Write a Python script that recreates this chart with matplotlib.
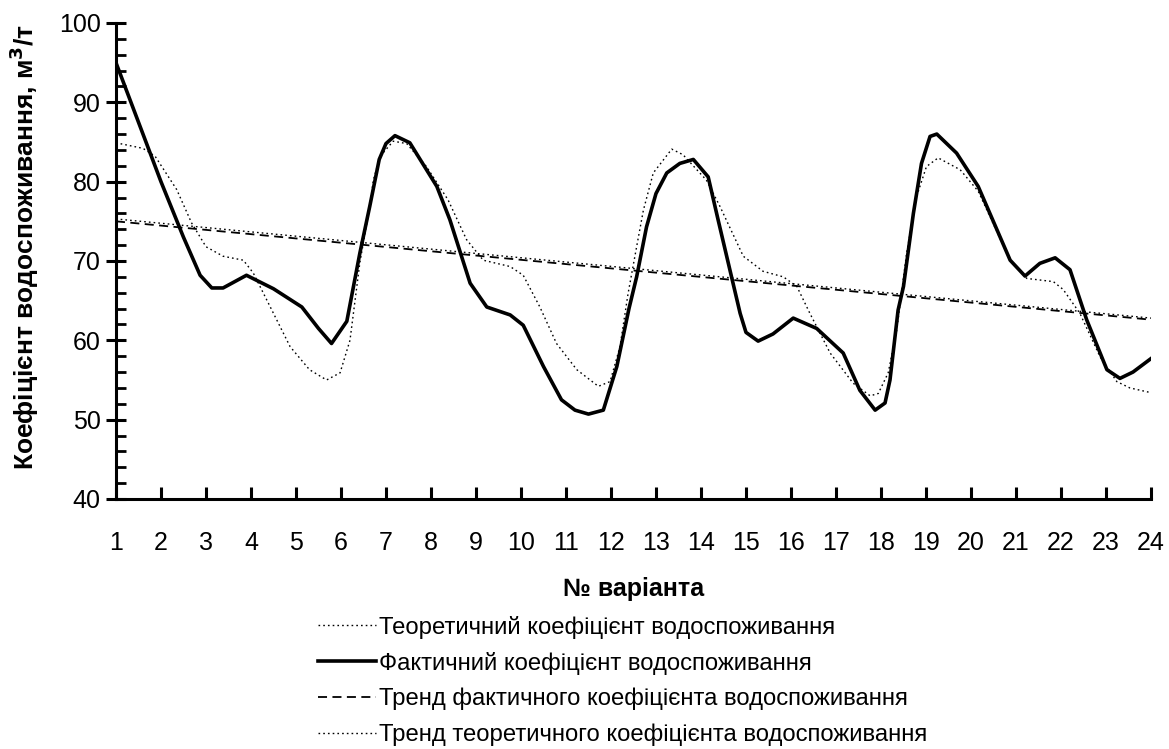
import numpy as np
import matplotlib.pyplot as plt
from matplotlib.lines import Line2D

plt.rcParams['font.family'] = ['Liberation Sans', 'DejaVu Sans']

# Фактичний коефіцієнт
fact_x = [1.0, 1.5, 2.0, 2.5, 2.87, 3.13, 3.38, 3.9, 4.5, 5.13, 5.5, 5.79, 6.13, 6.42,
          6.64, 6.85, 7.0, 7.2, 7.53, 8.13, 8.42, 8.87, 9.24, 9.76, 10.05, 10.5,
          10.9, 11.2, 11.5, 11.83, 12.13, 12.4, 12.57, 12.79, 13.0, 13.24, 13.53,
          13.83, 14.16, 14.38, 14.87, 15.0, 15.27, 15.6, 16.05, 16.57, 17.16,
          17.53, 17.87, 18.09, 18.2, 18.38, 18.5, 18.72, 18.9, 19.09, 19.24,
          19.68, 20.16, 20.87, 21.2, 21.53, 21.87, 22.2, 22.57, 23.02, 23.31,
          23.6, 24.0]
fact_y = [95.0, 87.5, 80.0, 73.0, 68.2, 66.6, 66.6, 68.2, 66.5, 64.2, 61.5, 59.6, 62.4, 71.0,
          76.9, 82.8, 84.8, 85.8, 84.9, 79.4, 75.2, 67.2, 64.2, 63.2, 61.9, 56.7,
          52.5, 51.2, 50.7, 51.2, 56.7, 64.0, 68.0, 74.3, 78.5, 81.1, 82.3,
          82.8, 80.6, 75.2, 63.4, 61.0, 59.9, 60.8, 62.8, 61.5, 58.4,
          53.7, 51.2, 52.1, 55.0, 63.8, 66.8, 76.0, 82.3, 85.7, 86.0,
          83.6, 79.4, 70.1, 68.1, 69.7, 70.4, 68.9, 62.6, 56.3, 55.2,
          56.0, 57.7]

# Теоретичний коефіцієнт
theor_x = [1.0, 1.6, 1.87, 2.35, 2.68, 3.0, 3.38, 3.83, 4.05, 4.5, 4.87, 5.3, 5.68,
           5.98, 6.2, 6.42, 6.64, 6.72, 6.87, 7.16, 7.46, 7.9, 8.38, 8.79, 9.16,
           9.76, 10.05, 10.42, 10.79, 11.24, 11.72, 11.98, 12.2, 12.38, 12.57,
           12.72, 12.94, 13.35, 13.6, 14.12, 14.42, 14.94, 15.38, 15.83, 16.13,
           16.42, 16.87, 17.38, 17.76, 17.94, 18.16, 18.35, 18.57, 18.79, 19.01,
           19.27, 19.76, 20.16, 20.87, 21.24, 21.83, 22.05, 22.42, 22.87, 23.24,
           23.53, 24.0]
theor_y = [84.9, 84.2, 83.2, 79.0, 74.8, 71.8, 70.6, 70.1, 68.5, 63.4, 59.2, 56.3, 55.0,
           55.9, 60.0, 69.8, 76.9, 80.2, 83.2, 85.1, 84.8, 81.9, 77.7, 72.7, 70.1,
           69.3, 68.2, 64.2, 59.6, 56.3, 54.2, 54.8, 59.2, 65.9, 71.8,
           76.4, 81.1, 84.1, 83.4, 80.2, 76.9, 70.6, 68.7, 68.0, 66.8,
           63.4, 58.4, 54.6, 53.0, 53.3, 55.9, 61.3, 71.0, 78.1, 81.9,
           83.0, 81.5, 78.8, 70.1, 67.8, 67.4, 66.4, 63.4, 57.9, 54.8,
           54.0, 53.4]

# Лінійні тренди (кінцеві точки)
trend_x = [1, 24]
trend_fact = [75.0, 62.6]
trend_theor = [75.3, 62.8]

xticks = list(range(1, 25))

fig = plt.figure(figsize=(11.69, 7.49), dpi=100)
ax = fig.add_axes([0.0992, 0.3338, 0.8854, 0.6355])

ax.plot(theor_x, theor_y, color='black', lw=1.0, linestyle=(0, (1.2, 2.2)))
ax.plot(fact_x, fact_y, color='black', lw=2.6, solid_joinstyle='round')
ax.plot(trend_x, trend_fact, color='black', lw=1.3, linestyle=(0, (5, 3)))
ax.plot(trend_x, trend_theor, color='black', lw=1.0, linestyle=(0, (1.2, 2.2)))

ax.set_xlim(1, 24)
ax.set_ylim(40, 100)
ax.set_xticks(xticks)
ax.set_yticks(np.arange(40, 101, 10))
ax.set_yticks(np.arange(40, 101, 2), minor=True)

for s in ['top', 'right']:
    ax.spines[s].set_visible(False)
for s in ['left', 'bottom']:
    ax.spines[s].set_linewidth(2.2)
    ax.spines[s].set_clip_on(False)

ax.tick_params(axis='y', which='major', direction='inout', length=14, width=2.2,
               labelsize=18, pad=4)
ax.tick_params(axis='y', which='minor', direction='in', length=7, width=2.0)
ax.tick_params(axis='x', which='major', direction='in', length=9, width=2.2,
               labelsize=18, pad=23)

ax.set_ylabel(r'Коефіцієнт водоспоживання, м$^\mathbf{3}$/т', fontsize=19,
              fontweight='bold')
ax.yaxis.set_label_coords(-0.072, 0.53)
ax.set_xlabel('№ варіанта', fontsize=18, fontweight='bold', labelpad=16)

handles = [
    Line2D([], [], color='black', lw=1.0, linestyle=(0, (1.2, 2.2))),
    Line2D([], [], color='black', lw=2.6),
    Line2D([], [], color='black', lw=1.3, linestyle=(0, (5, 3))),
    Line2D([], [], color='black', lw=1.0, linestyle=(0, (1.2, 2.2))),
]
labels = [
    'Теоретичний коефіцієнт водоспоживання',
    'Фактичний коефіцієнт водоспоживання',
    'Тренд фактичного коефіцієнта водоспоживання',
    'Тренд теоретичного коефіцієнта водоспоживання',
]
leg = fig.legend(handles, labels, loc='upper left', bbox_to_anchor=(0.272, 0.178),
                 frameon=False, fontsize=17.2, handlelength=2.45, handletextpad=0.1,
                 labelspacing=0.55, borderpad=0, borderaxespad=0)

fig.savefig('out.png', dpi=100)
